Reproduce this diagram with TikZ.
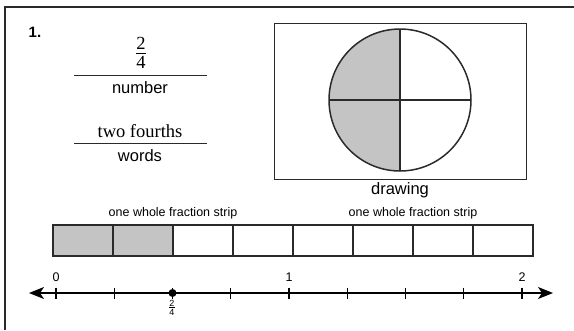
\documentclass[tikz,border=0pt]{standalone}
\usepackage{fontspec}
\setmainfont{Liberation Sans}
\newfontfamily\serf{Liberation Serif}
\usetikzlibrary{arrows.meta,calc}
\definecolor{greyfill}{HTML}{C4C4C4}
\definecolor{frame}{HTML}{2A2A2A}
\begin{document}
\begin{tikzpicture}[x=1pt,y=-1pt,
  lbl/.style={inner sep=0pt,font=\fontsize{16.5}{18}\selectfont},
  small/.style={inner sep=0pt,font=\fontsize{12.5}{14}\selectfont},
  serifbig/.style={inner sep=0pt,font=\fontsize{18.5}{20}\selectfont\serf},
  blank/.style={line width=1pt,draw=frame},
  cell/.style={draw=frame,line width=1.1pt,minimum width=60pt,minimum height=31pt,inner sep=0pt,outer sep=0pt},
  tick/.style={line width=1.4pt},
  numlbl/.style={inner sep=0pt,font=\fontsize{12.5}{14}\selectfont}]
\useasboundingbox (0,0) rectangle (574,330);
% frame (top and left only)
\coordinate (fl) at (5,330);
\coordinate (ftl) at (5,7);
\coordinate (ftr) at (574,7);
\draw[frame,line width=1.4pt] (fl) -- (ftl) -- (ftr);
% problem number
\node[inner sep=0pt,font=\fontsize{15}{16}\selectfont\bfseries] (num) at (35,32) {1.};
% number fraction
\node[serifbig] (frac) at (141,55) {\begin{tabular}{@{}c@{}}2\\[-3pt]\hline\rule{0pt}{15pt}4\end{tabular}};
\coordinate (l1a) at (74,75);
\coordinate (l1b) at (207,75);
\draw[blank] (l1a) -- (l1b);
\node[lbl] (number) at (140,88) {number};
% words
\node[serifbig] (words) at (140,131) {two fourths};
\coordinate (l2a) at (74,143);
\coordinate (l2b) at (207,143);
\draw[blank] (l2a) -- (l2b);
\node[lbl] (wordslbl) at (140,156) {words};
% drawing box
\node[draw=frame,line width=0.9pt,minimum width=252pt,minimum height=156pt,inner sep=0pt] (box) at (400,101) {};
\node[lbl] (drawing) at (400,190) {drawing};
\coordinate (c) at (400,100);
\begin{scope}
  \clip (320,20) rectangle (400,180);
  \fill[greyfill] (c) circle[radius=71];
\end{scope}
\draw[line width=1.5pt,frame] (c) circle[radius=71];
\coordinate (ct) at (400,29);
\coordinate (cb) at (400,171);
\coordinate (cl) at (329,100);
\coordinate (cr) at (471,100);
\draw[line width=1.5pt,frame] (ct) -- (cb);
\draw[line width=1.5pt,frame] (cl) -- (cr);
% fraction strips
\foreach \i in {0,...,7}{
  \ifnum\i<2
    \node[cell,fill=greyfill] (s\i) at ({83+60*\i},240.5) {};
  \else
    \node[cell] (s\i) at ({83+60*\i},240.5) {};
  \fi
}
\node[small] (w1) at (173,213) {one whole fraction strip};
\node[small] (w2) at (413,213) {one whole fraction strip};
% number line
\coordinate (al) at (29,293);
\coordinate (ar) at (553,293);
\draw[line width=1.4pt,{Stealth[length=15pt,width=12pt,inset=4pt]}-{Stealth[length=15pt,width=12pt,inset=4pt]}] (al) -- (ar);
\foreach \i in {0,...,8}{
  \coordinate (t\i) at ({56+58.25*\i},293);
  \draw[tick] ($(t\i)+(0,-5.5)$) -- ($(t\i)+(0,5.5)$);
}
\node[numlbl] (n0) at (56,277) {0};
\node[numlbl] (n1) at (289,277) {1};
\node[numlbl] (n2) at (522,277) {2};
\fill (t2) circle[radius=4];
\node[inner sep=0pt,font=\fontsize{9}{10}\selectfont] (d) at (172,309) {\begin{tabular}{@{}c@{}}2\\[-3pt]\hline\rule{0pt}{8pt}4\end{tabular}};
\end{tikzpicture}
\end{document}
